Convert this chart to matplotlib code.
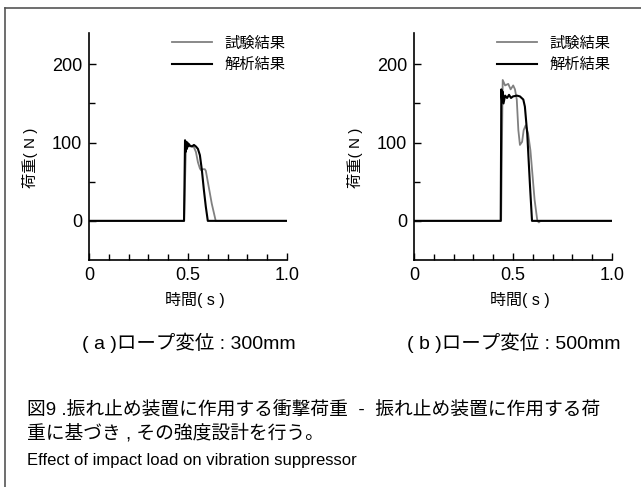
import matplotlib
matplotlib.use('Agg')
import matplotlib.pyplot as plt
from matplotlib.lines import Line2D

plt.rcParams['font.family'] = ['Liberation Sans', 'Noto Sans CJK JP']

# (a) rope displacement 300mm
t_a_test = [0, 0.48, 0.487, 0.49, 0.495, 0.50, 0.51, 0.52, 0.53, 0.54, 0.55, 0.56,
            0.565, 0.575, 0.585, 0.59, 0.60, 0.62, 0.64, 1.0]
f_a_test = [0, 0, 70, 98, 92, 97, 95, 96, 94, 88, 75, 67,
            65, 66, 66, 64, 50, 22, 0, 0]
t_a_calc = [0, 0.48, 0.485, 0.488, 0.491, 0.494, 0.497, 0.50, 0.505, 0.51, 0.52,
            0.53, 0.54, 0.55, 0.56, 0.57, 0.58, 0.59, 0.60, 1.0]
f_a_calc = [0, 0, 103, 88, 101, 92, 100, 95, 98, 96, 95,
            97, 95, 92, 84, 65, 40, 18, 0, 0]

# (b) rope displacement 500mm
t_b_test = [0, 0.44, 0.448, 0.46, 0.476, 0.488, 0.501, 0.51, 0.519, 0.527, 0.535,
            0.546, 0.554, 0.564, 0.576, 0.588, 0.609, 0.623, 0.631, 0.638, 1.0]
f_b_test = [0, 0, 180, 173, 175, 168, 173, 168, 155, 116, 97,
            101, 116, 122, 112, 90, 27, 0, -2, 0, 0]
t_b_calc = [0, 0.438, 0.441, 0.445, 0.448, 0.452, 0.46, 0.47, 0.48, 0.49, 0.50,
            0.52, 0.535, 0.552, 0.56, 0.572, 0.586, 0.596, 1.0]
f_b_calc = [0, 0, 168, 152, 165, 150, 160, 157, 161, 157, 159,
            160, 159, 155, 146, 111, 44, 0, 0]

labels = ['試験結果', '解析結果']
subtitles = ['( a )ロープ変位 : 300mm', '( b )ロープ変位 : 500mm']
caption1 = '図9 .振れ止め装置に作用する衝撃荷重  -  振れ止め装置に作用する荷'
caption2 = '重に基づき , その強度設計を行う。'
caption_en = 'Effect of impact load on vibration suppressor'

W, H = 641, 487
fig = plt.figure(figsize=(W / 100, H / 100), dpi=100)

panels = [(89, t_a_test, f_a_test, t_a_calc, f_a_calc, subtitles[0]),
          (414, t_b_test, f_b_test, t_b_calc, f_b_calc, subtitles[1])]

for x0, tt, ft, tc, fc, sub in panels:
    ax = fig.add_axes([x0 / W, 1 - 260 / H, 198 / W, 227 / H])
    ax.plot(tt, ft, color='#808080', lw=1.3, label=labels[0])
    ax.plot(tc, fc, color='black', lw=1.5, label=labels[1])
    ax.set_xlim(0, 1.0)
    ax.set_ylim(-50, 240)
    ax.set_xticks([0, 0.5, 1.0])
    ax.set_xticklabels(['0', '0.5', '1.0'])
    ax.set_xticks([0.1, 0.2, 0.3, 0.4, 0.6, 0.7, 0.8, 0.9], minor=True)
    ax.set_yticks([0, 100, 200])
    ax.set_yticks([50, 150], minor=True)
    ax.tick_params(which='both', direction='in', labelsize=13, pad=5, width=1)
    ax.tick_params(which='major', length=5)
    ax.tick_params(which='minor', length=4)
    for s in ['top', 'right']:
        ax.spines[s].set_visible(False)
    for s in ['left', 'bottom']:
        ax.spines[s].set_linewidth(1.2)
    ax.set_ylabel('荷重( N )', fontsize=11)
    ax.yaxis.set_label_coords(-0.26, 0.45)
    ax.set_xlabel('時間( s )', fontsize=11.5)
    ax.xaxis.set_label_coords(0.537, -0.14)
    ax.legend(loc='upper right', bbox_to_anchor=(1.06, 1.045), frameon=False,
              fontsize=11, handlelength=2.6, handletextpad=0.8, labelspacing=0.5)
    fig.text((x0 + 100) / W, 1 - 343 / H, sub, ha='center', va='center', fontsize=14)

fig.text(27 / W, 1 - 410 / H, caption1, ha='left', va='center', fontsize=13.5)
fig.text(27 / W, 1 - 433 / H, caption2, ha='left', va='center', fontsize=13.5)
fig.text(27 / W, 1 - 461 / H, caption_en, ha='left', va='center', fontsize=12)

# outer frame (top and left edges visible)
fig.add_artist(Line2D([5 / W, 5 / W], [0, 1 - 8 / H], transform=fig.transFigure,
                      color='#555555', lw=1.2))
fig.add_artist(Line2D([5 / W, 1], [1 - 8 / H, 1 - 8 / H], transform=fig.transFigure,
                      color='#555555', lw=1.2))

fig.savefig('out.png', dpi=100)
